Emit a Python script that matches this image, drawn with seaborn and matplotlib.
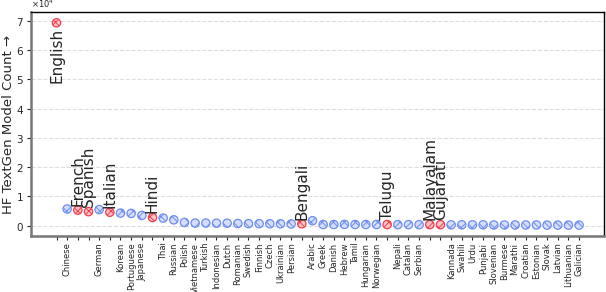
import numpy as np
import pandas as pd
import matplotlib
matplotlib.use("Agg")
import matplotlib.pyplot as plt
import seaborn as sns

# Languages in plotted order, HF text-generation model counts
languages = ["English", "Chinese", "French", "Spanish", "German", "Italian", "Korean",
             "Portuguese", "Japanese", "Hindi", "Thai", "Russian", "Polish", "Vietnamese",
             "Turkish", "Indonesian", "Dutch", "Romanian", "Swedish", "Finnish", "Czech",
             "Ukrainian", "Persian", "Bengali", "Arabic", "Greek", "Danish", "Hebrew",
             "Tamil", "Hungarian", "Norwegian", "Telugu", "Nepali", "Catalan", "Serbian",
             "Malayalam", "Gujarati", "Kannada", "Swahili", "Urdu", "Punjabi", "Slovenian",
             "Burmese", "Marathi", "Croatian", "Estonian", "Slovak", "Latvian",
             "Lithuanian", "Galician"]
counts = [69300, 5700, 5300, 4800, 5500, 4600, 4300,
          4200, 3500, 2800, 2600, 2000, 1100, 900,
          900, 850, 850, 750, 700, 700, 650,
          650, 600, 650, 1700, 400, 400, 450,
          400, 400, 400, 400, 350, 350, 350,
          350, 350, 300, 300, 300, 300, 250,
          250, 250, 250, 250, 200, 200,
          200, 200]
highlighted = ["English", "French", "Spanish", "Italian", "Hindi", "Bengali",
               "Telugu", "Malayalam", "Gujarati"]

df = pd.DataFrame({"language": languages, "count": counts})
df["pos"] = np.arange(len(df))
df["group"] = np.where(df.language.isin(highlighted), "hi", "lo")

sns.set_style("white")
plt.rcParams["font.family"] = ["DejaVu Sans"]

fig = plt.figure(figsize=(6.06, 2.92), dpi=100)
ax = fig.add_axes([0.051, 0.193, 0.946, 0.765])

styles = {"lo": ("#6f8ff0", "#d4ddfb"), "hi": ("#f0404e", "#fbc4c8")}
for grp, (edge, face) in styles.items():
    sub = df[df.group == grp]
    with plt.rc_context({"hatch.color": edge, "hatch.linewidth": 0.7}):
        sns.scatterplot(data=sub, x="pos", y="count", color=face, s=36,
                        linewidth=0.9, edgecolor=edge, hatch="xxx",
                        legend=False, ax=ax, zorder=3)

# labels for highlighted languages
top = df["count"].max()
for _, r in df[df.group == "hi"].iterrows():
    if r["count"] == top:
        ax.annotate(r.language, (r.pos, r["count"]), xytext=(0, -4),
                    textcoords="offset points", rotation=90, ha="center",
                    va="top", fontsize=11)
    else:
        ax.annotate(r.language, (r.pos, r["count"]), xytext=(0, 3),
                    textcoords="offset points", rotation=90, ha="center",
                    va="bottom", fontsize=11)

ticklabels = ["" if g == "hi" else l for l, g in zip(df.language, df.group)]
ax.set_xticks(df.pos)
ax.set_xticklabels(ticklabels, rotation=90, fontsize=6)
ax.set_xlim(-2.4, len(df) - 1 + 2.35)
ax.set_ylim(-3400, 72900)
ax.set_xlabel("")
ax.set_ylabel("HF TextGen Model Count →", fontsize=9.5, labelpad=0.5)
ax.ticklabel_format(axis="y", style="sci", scilimits=(0, 0), useMathText=True)
ax.yaxis.get_offset_text().set_fontsize(6)
ax.tick_params(axis="y", labelsize=7.5, length=3, direction="out", left=True, pad=2)
ax.tick_params(axis="x", length=3, direction="out", bottom=True, pad=2)
ax.grid(axis="y", linestyle="--", color="#dddddd", linewidth=0.8)
ax.set_axisbelow(True)

for side in ["left", "bottom"]:
    ax.spines[side].set_color("#777777")
    ax.spines[side].set_linewidth(1.8)
for side in ["top", "right"]:
    ax.spines[side].set_color("black")
    ax.spines[side].set_linewidth(1.0)

fig.savefig("out.png", dpi=100)
